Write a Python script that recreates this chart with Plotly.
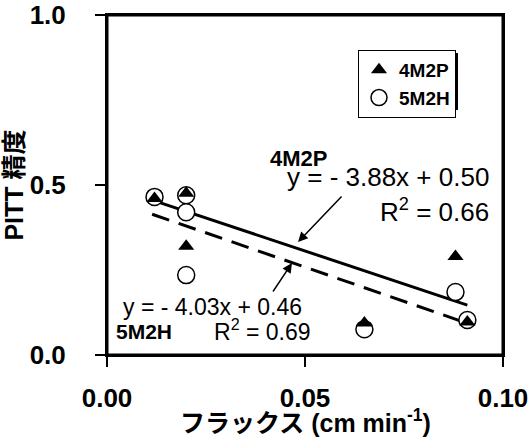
import plotly.graph_objects as go

# ---- data ----
x_4m2p = [0.012, 0.020, 0.020, 0.065, 0.088, 0.091]
y_4m2p = [0.46, 0.476, 0.32, 0.094, 0.29, 0.097]
x_5m2h = [0.012, 0.020, 0.020, 0.020, 0.065, 0.088, 0.091]
y_5m2h = [0.465, 0.47, 0.42, 0.235, 0.076, 0.185, 0.103]
fit_4m2p = {"slope": -3.88, "intercept": 0.50, "r2": 0.66}
fit_5m2h = {"slope": -4.03, "intercept": 0.46, "r2": 0.69}
x_ticks = [0.0, 0.05, 0.10]
y_ticks = [0.0, 0.5, 1.0]
x_title = "フラックス (cm min<sup>-1</sup>)"
y_title = "PITT 精度"

FONT = "Liberation Sans, Arial, Noto Sans CJK JP, sans-serif"

def fit_line(xs, fit):
    fx = [min(xs), max(xs)]
    return fx, [fit["slope"] * v + fit["intercept"] for v in fx]

fig = go.Figure()

fx, fy = fit_line(x_4m2p, fit_4m2p)
fig.add_trace(go.Scatter(x=fx, y=fy, mode="lines", line=dict(color="black", width=3),
                         showlegend=False, hoverinfo="skip"))
fx, fy = fit_line([0.0114] + x_5m2h, fit_5m2h)
fig.add_trace(go.Scatter(x=fx, y=fy, mode="lines",
                         line=dict(color="black", width=3, dash="18px,10px"),
                         showlegend=False, hoverinfo="skip"))

fig.add_trace(go.Scatter(x=x_5m2h, y=y_5m2h, mode="markers", name="5M2H", legendrank=2,
                         marker=dict(symbol="circle", size=17, color="white",
                                     line=dict(color="black", width=1.5))))
fig.add_trace(go.Scatter(x=x_4m2p, y=y_4m2p, mode="markers", name="4M2P", legendrank=1,
                         marker=dict(symbol="triangle-up", size=14, color="black",
                                     line=dict(width=0))))

axis_common = dict(
    showgrid=False, zeroline=False, showline=True, linecolor="black", linewidth=2,
    mirror=True, ticks="outside", ticklen=10, tickwidth=2, tickcolor="black",
    automargin=False, ticklabeloverflow="allow",
    tickfont=dict(family=FONT, size=26, color="black", weight="bold"),
)
fig.update_xaxes(range=[0, 0.1], tickvals=x_ticks, tickformat=".2f",
                 ticklabelstandoff=9, **axis_common)
fig.update_yaxes(range=[0, 1.0], tickvals=y_ticks, tickformat=".1f",
                 ticklabelstandoff=24,
                 title=dict(text=y_title, standoff=4,
                            font=dict(family=FONT, size=25, color="black", weight="bold")),
                 **axis_common)

def px2x(px):
    return (px - 107) / 396 * 0.1

def px2y(py):
    return (355 - py) / 340

ann = []
ann.append(dict(x=px2x(268), y=px2y(158), text="4M2P", xanchor="left", yanchor="middle",
                font=dict(family=FONT, size=22, color="black", weight="bold")))
ann.append(dict(x=px2x(491), y=px2y(177),
                text=f"y = - {abs(fit_4m2p['slope']):.2f}x + {fit_4m2p['intercept']:.2f}",
                xanchor="right", yanchor="middle", font=dict(family=FONT, size=26, color="black")))
ann.append(dict(x=px2x(491), y=px2y(210), text=f"R<sup>2</sup> = {fit_4m2p['r2']:.2f}",
                xanchor="right", yanchor="middle", font=dict(family=FONT, size=26, color="black")))
ann.append(dict(x=px2x(121), y=px2y(307),
                text=f"y = - {abs(fit_5m2h['slope']):.2f}x + {fit_5m2h['intercept']:.2f}",
                xanchor="left", yanchor="middle", font=dict(family=FONT, size=23, color="black")))
ann.append(dict(x=px2x(114), y=px2y(331), text="5M2H", xanchor="left", yanchor="middle",
                font=dict(family=FONT, size=21, color="black", weight="bold")))
ann.append(dict(x=px2x(212), y=px2y(330), text=f"R<sup>2</sup> = {fit_5m2h['r2']:.2f}",
                xanchor="left", yanchor="middle", font=dict(family=FONT, size=23, color="black")))
for a in ann:
    a.update(xref="x", yref="y", showarrow=False)

# x-axis title
ann.append(dict(x=0.5, y=(355 - 421) / 340, xref="paper", yref="paper", text=x_title,
                showarrow=False, xanchor="center", yanchor="middle",
                font=dict(family=FONT, size=25, color="black", weight="bold")))

# arrows
ann.append(dict(x=px2x(298), y=px2y(242), ax=px2x(343), ay=px2y(195), xref="x", yref="y",
                axref="x", ayref="y", text="", showarrow=True, arrowhead=2, arrowsize=1.3,
                arrowwidth=1.5, arrowcolor="black"))
ann.append(dict(x=px2x(292), y=px2y(263), ax=px2x(272), ay=px2y(293), xref="x", yref="y",
                axref="x", ayref="y", text="", showarrow=True, arrowhead=2, arrowsize=1.3,
                arrowwidth=1.5, arrowcolor="black"))

# legend shadow (offset 3 px right/down from the legend box) and plot frame
LEG_X0, LEG_Y0, LEG_W, LEG_H = 358, 50, 97, 57
shapes = [
    dict(type="rect", xref="paper", yref="paper", x0=0, x1=1, y0=0, y1=1,
         line=dict(color="black", width=3), fillcolor="rgba(0,0,0,0)", layer="above"),
    dict(type="rect", xref="paper", yref="paper",
         x0=(LEG_X0 + 3 - 107) / 396, x1=(LEG_X0 + LEG_W + 3 - 107) / 396,
         y0=(355 - (LEG_Y0 + LEG_H + 3)) / 340, y1=(355 - (LEG_Y0 + 3)) / 340,
         fillcolor="black", line=dict(width=0), layer="above"),
]

fig.update_layout(
    width=529, height=441,
    margin=dict(l=107, r=26, t=15, b=86),
    paper_bgcolor="white", plot_bgcolor="white",
    font=dict(family=FONT, color="black"),
    annotations=ann, shapes=shapes,
    legend=dict(x=(LEG_X0 - 107) / 396, y=(355 - LEG_Y0) / 340, xanchor="left", yanchor="top",
                bgcolor="white", bordercolor="black", borderwidth=1,
                font=dict(family=FONT, size=19, color="black", weight="bold"),
                itemwidth=30, tracegroupgap=0),
)

fig.write_html("out.html", config={"displayModeBar": False},
               post_script="document.body.style.margin='0';document.body.style.overflow='hidden';")
